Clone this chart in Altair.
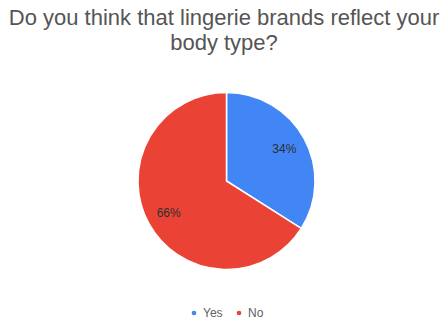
import altair as alt
import pandas as pd

answers = ["Yes", "No"]
shares = [34, 66]
labels = ["34%", "66%"]
slice_order = [0, 1]
colors = ["#4285F4", "#EA4335"]

df = pd.DataFrame({"answer": answers, "share": shares, "label": labels, "ord": slice_order})

TOP = 60
W, H = 448, 327
cx, cy = 226.5, 181 - TOP
FONT = "Liberation Sans"

base = alt.Chart(df).encode(
    theta=alt.Theta("share:Q", stack=True),
    order=alt.Order("ord:Q"),
)

arc = base.mark_arc(outerRadius=88.5, stroke="white", strokeWidth=1.5).encode(
    x=alt.value(cx),
    y=alt.value(cy),
    color=alt.Color(
        "answer:N",
        scale=alt.Scale(domain=answers, range=colors),
        legend=alt.Legend(
            title=None,
            orient="none",
            legendX=188,
            legendY=247,
            direction="horizontal",
            symbolType="circle",
            symbolSize=22,
            symbolStrokeWidth=0,
            labelFontSize=12,
            labelColor="#5f5f5f",
            labelFont=FONT,
            columnPadding=10,
            labelOffset=3,
        ),
    ),
)

text = base.mark_text(radius=66, fontSize=12, color="#2f2f2f", font=FONT).encode(
    x=alt.value(cx),
    y=alt.value(cy),
    text="label:N",
)

chart = (
    alt.layer(arc, text)
    .properties(
        width=W,
        height=H - TOP,
        autosize=alt.AutoSizeParams(type="none"),
        padding={"top": TOP, "left": 0, "right": 0, "bottom": 0},
        title=alt.TitleParams(
            text=["Do you think that lingerie brands reflect your", "body type?"],
            anchor="middle",
            fontSize=22,
            font=FONT,
            fontWeight="normal",
            color="#555555",
            lineHeight=25,
            offset=5,
        ),
        background="white",
    )
    .configure_view(stroke=None)
)

chart.save("out.html", embed_options={"renderer": "svg", "actions": False})
